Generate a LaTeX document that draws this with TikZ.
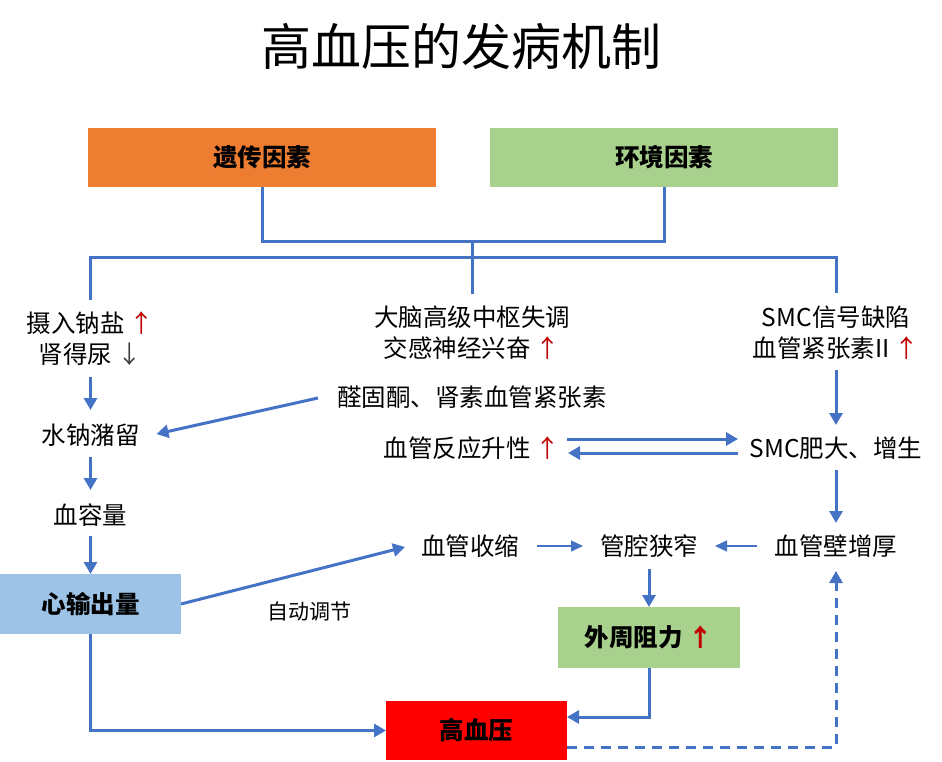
\documentclass[tikz,border=0pt]{standalone}
\usepackage{fontspec}
\setmainfont{Noto Sans CJK SC}
\usetikzlibrary{arrows.meta}
\definecolor{lnblue}{HTML}{4472C4}
\definecolor{orangebox}{HTML}{ED7D31}
\definecolor{greenbox}{HTML}{A9D18E}
\definecolor{bluebox}{HTML}{9DC3E6}
\definecolor{redbox}{HTML}{FF0000}
\definecolor{uparrow}{HTML}{C00000}
\definecolor{dnarrow}{HTML}{404040}
\newcommand{\upar}{\textcolor{uparrow}{↑}}
\newcommand{\dnar}{\textcolor{dnarrow}{↓}}
\tikzset{
  txt/.style={inner sep=0pt, outer sep=0pt, align=center, font=\fontsize{24.5pt}{31pt}\selectfont},
  boxnode/.style={inner sep=0pt, outer sep=0pt, minimum width=#1, font=\fontsize{24.5pt}{30pt}\selectfont\bfseries},
  ln/.style={draw=lnblue, line width=3pt},
  arr/.style={ln, -{Triangle[length=12pt,width=13pt]}},
  thinarr/.style={draw=lnblue, line width=1.5pt, -{Triangle[length=12pt,width=11pt]}},
}
\begin{document}
\begin{tikzpicture}[x=1pt,y=-1pt]
\useasboundingbox (0,0) rectangle (942,762);
% title
\node[inner sep=0pt, font=\fontsize{50pt}{56pt}\selectfont] (title) at (461,46) {高血压的发病机制};
% boxes
\node[boxnode=348pt, minimum height=59pt, fill=orangebox] (gene) at (262,157.5) {遗传因素};
\node[boxnode=348pt, minimum height=59pt, fill=greenbox] (env) at (664,157.5) {环境因素};
\node[boxnode=181pt, minimum height=60pt, fill=bluebox] (co) at (90.5,604) {心输出量};
\node[boxnode=182pt, minimum height=61pt, fill=greenbox] (per) at (649,637.5) {外周阻力 \upar};
\node[boxnode=181pt, minimum height=59pt, fill=redbox] (hbp) at (476.5,730.5) {高血压};
% text nodes
\node[txt] (salt) at (90.5,339) {摄入钠盐 \upar\\肾得尿 \dnar};
\node[txt] (brain) at (472,333) {大脑高级中枢失调\\交感神经兴奋 \upar};
\node[txt] (smcsig) at (836,333) {SMC信号缺陷\\血管紧张素II \upar};
\node[txt] (aldo) at (472,397) {醛固酮、肾素血管紧张素};
\node[txt] (water) at (90.5,435) {水钠潴留};
\node[txt] (resp) at (472,448) {血管反应升性 \upar};
\node[txt] (smc) at (836,448) {SMC肥大、增生};
\node[txt] (vol) at (90.5,515) {血容量};
\node[txt] (vc) at (470,546) {血管收缩};
\node[txt] (lum) at (649,546) {管腔狭窄};
\node[txt] (wall) at (836,546) {血管壁增厚};
\node[txt, font=\fontsize{21pt}{26pt}\selectfont] (auto) at (309,612) {自动调节};
% junctions
\coordinate (j1) at (472,241);
\coordinate (j2) at (472,257);
% top tree
\draw[ln] (gene.south) |- (j1) -| (env.south);
\draw[ln] (j1) -- ([yshift=39pt]brain.center);
\draw[ln] ([yshift=39pt]salt.center) |- (j2) -| ([yshift=40pt]smcsig.center);
% left column
\draw[arr] ([yshift=-38pt]salt.center) -- ([yshift=25pt]water.center);
\draw[arr] ([yshift=-22pt]water.center) -- ([yshift=25pt]vol.center);
\draw[arr] ([yshift=-21pt]vol.center) -- (co.north);
\draw[arr] (co.south) |- (hbp.west);
\draw[arr] ([xshift=-154pt,yshift=-1pt]aldo.center) -- ([xshift=66pt,yshift=1pt]water.center);
% right column
\draw[arr] ([yshift=-37pt]smcsig.center) -- ([yshift=23pt]smc.center);
\draw[arr] ([yshift=-22pt]smc.center) -- ([yshift=23pt]wall.center);
\draw[arr] ([xshift=95pt,yshift=9pt]resp.center) -- ([xshift=-98pt,yshift=9pt]smc.center);
\draw[arr] ([xshift=-98pt,yshift=-5pt]smc.center) -- ([xshift=96pt,yshift=-5pt]resp.center);
% middle row
\draw[arr] (co.east) -- ([xshift=-65pt,yshift=-1pt]vc.center);
\draw[thinarr] ([xshift=67pt]vc.center) -- ([xshift=-66pt]lum.center);
\draw[thinarr] ([xshift=-79pt]wall.center) -- ([xshift=66pt]lum.center);
\draw[arr] ([yshift=-23pt]lum.center) -- (per.north);
\draw[arr] (per.south) |- ([yshift=13.5pt]hbp.east);
\draw[arr, dash pattern=on 10pt off 7pt] ([yshift=-16.5pt]hbp.east) -| ([yshift=-25pt]wall.center);
\end{tikzpicture}
\end{document}
